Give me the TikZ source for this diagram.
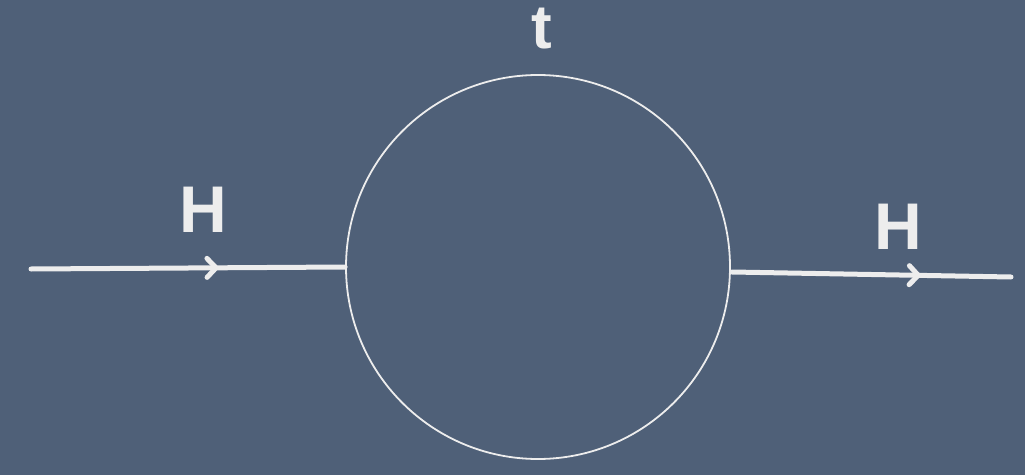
\documentclass[tikz,border=0pt]{standalone}
\usepackage{fontspec}
\setmainfont{Liberation Sans}
\usetikzlibrary{arrows.meta,decorations.markings}
\definecolor{bg}{HTML}{4F6078}
\definecolor{ink}{HTML}{EDEDED}
\begin{document}
\begin{tikzpicture}[x=1pt,y=1pt,
  lbl/.style={text=ink,font=\fontsize{66}{66}\selectfont\bfseries,inner sep=0pt,text height=48pt,text depth=0pt},
  prop/.style={draw=ink,line width=5pt,line cap=round,postaction={decorate},
    decoration={markings,mark=at position #1 with {\arrow[ink,line width=5pt]{Straight Barb[length=9pt,width=19pt,line cap=round]}}}}]
\fill[bg] (0,0) rectangle (1025,475);
\useasboundingbox (0,0) rectangle (1025,475);
\node[circle,draw=ink,line width=1.8pt,minimum size=384pt,inner sep=0pt] (c) at (538,208) {};
\coordinate (inL) at (31,206);
\coordinate (outR) at (1011,198);
\coordinate (cR) at (732,203);
\draw[prop=0.6] (inL) -- (c.west);
\draw[prop=0.68] (cR) -- (outR);
\node[lbl,anchor=base] (h1) at (203,243) {H};
\node[lbl,anchor=base] (h2) at (898,226) {H};
\node[lbl,anchor=base,font=\fontsize{62}{62}\selectfont\bfseries,text height=44pt] (t) at (542,426) {t};
\end{tikzpicture}
\end{document}
